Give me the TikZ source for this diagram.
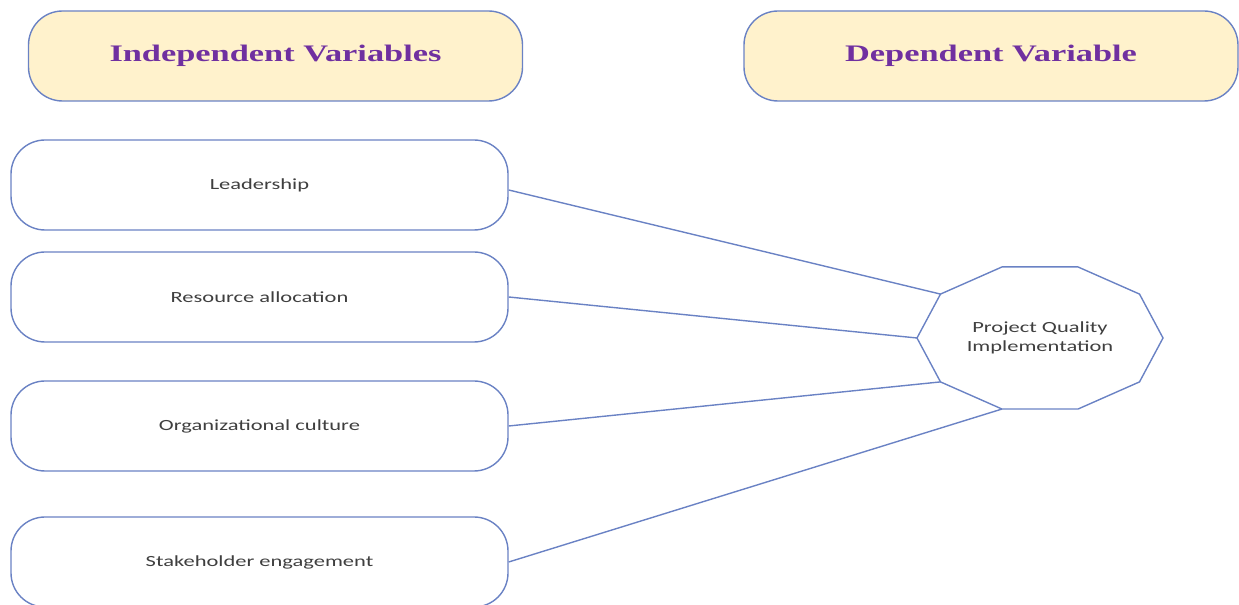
\documentclass[tikz,border=0pt]{standalone}
\usepackage{fontspec}
\setmainfont{Liberation Serif}
\newfontfamily\bodyfont{Carlito}
\usepackage{graphicx}
\usepackage{xcolor}
\definecolor{hdrFill}{HTML}{FFF2CC}
\definecolor{hdrText}{HTML}{7030A0}
\definecolor{boxLine}{HTML}{6A82C4}
\definecolor{bodyText}{HTML}{3F3F3F}
\usepackage{tikz}
\usetikzlibrary{positioning,calc}
\newcommand{\wide}[1]{\scalebox{1.45}[1]{#1}}

\begin{document}
\begin{tikzpicture}[x=0.5pt, y=0.5pt,
  header/.style={draw=boxLine, line width=0.7pt, fill=hdrFill, rounded corners=17pt, minimum width=247pt, minimum height=45pt, text=hdrText, font=\fontsize{11.85}{14}\selectfont\bfseries},
  varbox/.style={draw=boxLine, line width=0.7pt, fill=white, rounded corners=17pt, minimum width=248.5pt, minimum height=45pt, text=bodyText, font=\bodyfont\fontsize{7.75}{9.3}\selectfont},
  conn/.style={draw=boxLine, line width=0.7pt}]
\useasboundingbox (0,0) rectangle (1239,605);
% headers
\node[header] (indep) at (275.5,549) {\wide{Independent Variables}};
\node[header] (dep) at (991,549) {\wide{Dependent Variable}};
% independent variables
\node[varbox] (lead) at (259.5,420) {\wide{Leadership}};
\node[varbox] (res) at (259.5,308) {\wide{Resource allocation}};
\node[varbox] (org) at (259.5,179) {\wide{Organizational culture}};
\node[varbox] (stake) at (259.5,43) {\wide{Stakeholder engagement}};
% dependent variable (stretched decagon)
\node[text=bodyText, font=\bodyfont\fontsize{7.75}{9.3}\selectfont, align=center] (pqi) at (1040,267) {\wide{Project Quality}\\\wide{Implementation}};
\foreach \a in {0,36,...,324}
  \coordinate (pqi-\a) at ($(pqi.center)+(\a:123 and 74.7)$);
\draw[conn] (pqi-0) \foreach \a in {36,72,...,324} {-- (pqi-\a)} -- cycle;
% links
\draw[conn] ([yshift=-2.5pt]lead.east) -- (pqi-144);
\draw[conn] (res.east) -- (pqi-180);
\draw[conn] (org.east) -- (pqi-216);
\draw[conn] (stake.east) -- (pqi-252);
\end{tikzpicture}
\end{document}
